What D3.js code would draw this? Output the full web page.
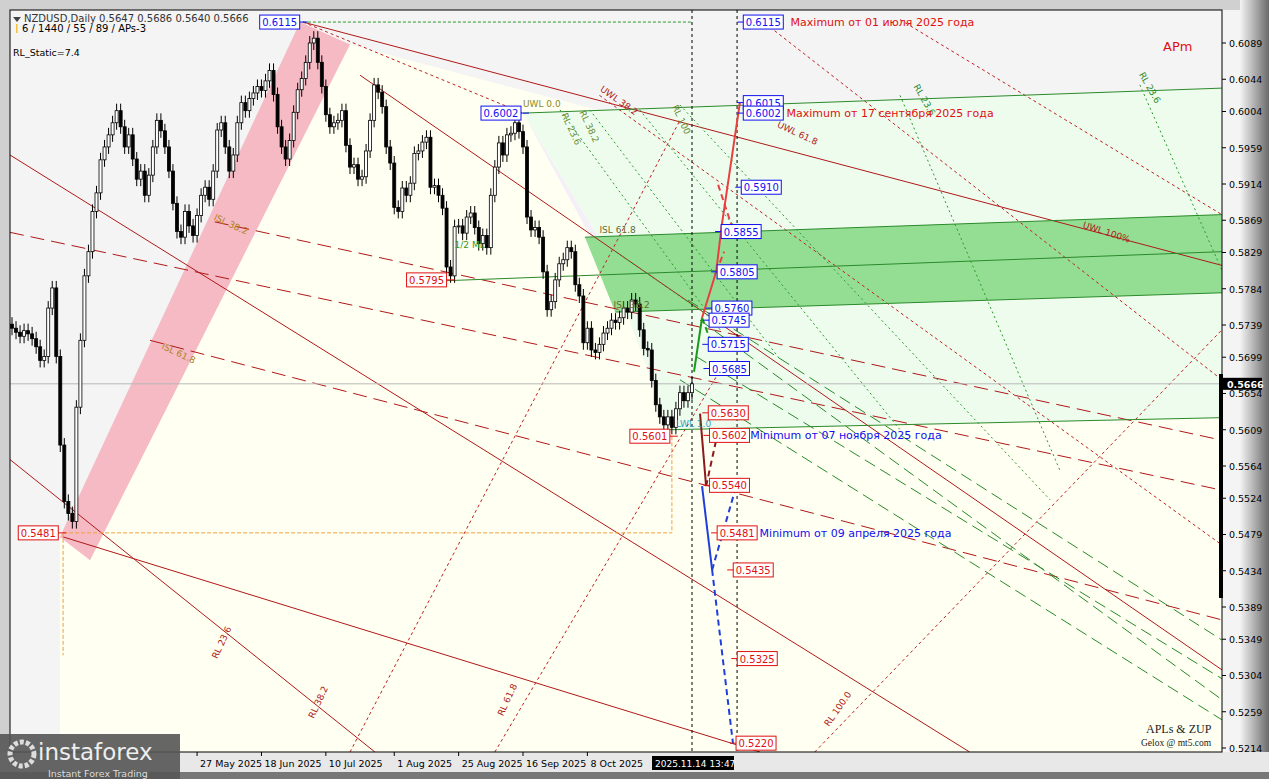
<!DOCTYPE html>
<html><head><meta charset="utf-8">
<script src="https://cdn.jsdelivr.net/npm/d3@7"></script>
<style>
body{margin:0;background:#fff;font-family:Tahoma,"DejaVu Sans",sans-serif}
</style></head>
<body><svg id="c" width="1269" height="779"></svg>
<script>
// NZDUSD daily closes, Mar..Nov 14 2025
var closes = [0.5735,0.5730,0.5725,0.5732,0.5728,0.5722,0.5712,0.5695,0.5700,0.5760,0.5785,
 0.5700,0.5590,0.5520,0.5505,0.5495,0.5637,0.5720,0.5800,0.5830,0.5880,0.5903,0.5944,0.5960,
 0.5975,0.5990,0.6005,0.5985,0.5960,0.5975,0.5945,0.5920,0.5930,0.5900,0.5925,0.5960,0.5993,
 0.5980,0.5960,0.5930,0.5890,0.5855,0.5848,0.5880,0.5862,0.5850,0.5875,0.5900,0.5910,0.5895,
 0.5930,0.5981,0.5990,0.5960,0.5930,0.5950,0.5990,0.6015,0.6005,0.6020,0.6027,0.6035,0.6030,
 0.6042,0.6055,0.6025,0.5985,0.5960,0.5945,0.5968,0.6003,0.6031,0.6045,0.6065,0.6089,0.6095,
 0.6065,0.6035,0.6000,0.5985,0.5990,0.5993,0.6005,0.5962,0.5935,0.5938,0.5920,0.5923,0.5955,
 0.5993,0.6037,0.6028,0.6010,0.5960,0.5940,0.5885,0.5880,0.5909,0.5900,0.5915,0.5952,0.5955,
 0.5966,0.5972,0.5910,0.5912,0.5900,0.5884,0.5811,0.5800,0.5861,0.5862,0.5853,0.5873,0.5878,
 0.5860,0.5840,0.5850,0.5835,0.5900,0.5935,0.5965,0.5950,0.5975,0.5977,0.5990,0.5979,0.5960,
 0.5873,0.5857,0.5860,0.5848,0.5805,0.5758,0.5768,0.5795,0.5815,0.5820,0.5835,0.5830,0.5789,
 0.5775,0.5717,0.5735,0.5708,0.5705,0.5715,0.5729,0.5735,0.5745,0.5742,0.5748,0.5760,0.5755,
 0.5770,0.5765,0.5733,0.5710,0.5708,0.5670,0.5640,0.5625,0.5615,0.5625,0.5612,0.5635,0.5655,
 0.5645,0.5655,0.5666];
var firstOpen = 0.5740;

var priceTicks = [0.6089,0.6044,0.6004,0.5959,0.5914,0.5869,0.5829,0.5784,0.5739,0.5699,0.5654,
 0.5609,0.5564,0.5524,0.5479,0.5434,0.5389,0.5349,0.5304,0.5259,0.5214];
var timeLabels = ["27 May 2025","18 Jun 2025","10 Jul 2025","1 Aug 2025","25 Aug 2025","16 Sep 2025","8 Oct 2025"];
var timeBars = [46,62,78,95,111,127,143];

// annotation geometry in [bar, price]
var redSolid = [[72.3,0.6115,300.7,0.5813],[86.5,0.6049,300.7,0.5311],[-0.5,0.5950,238,0.5209],
 [-0.5,0.5572,90.2,0.5209],[12.7,0.5476,185.9,0.5209]];
var redLong = [[-0.5,0.5854,300.7,0.5534],[34.3,0.5720,300.7,0.5373],[50.4,0.5867,300.7,0.5596]];
var redDot = [[84,0.5209,166,0.5993],[120,0.5209,176,0.5683],[199.5,0.5209,300.7,0.5733],
 [186,0.6118,300.7,0.5671],[220.7,0.6118,300.7,0.5876],[146,0.6024,300.7,0.5466],[72.3,0.6115,127,0.6002]];
var greenSolid = [[127,0.6002,300.7,0.6033],[108.1,0.5794,300.7,0.5830],[142.4,0.5848,300.7,0.5876],
 [149.9,0.5755,300.7,0.5779],[163.5,0.5609,300.7,0.5624]];
var greenDot = [[136.2,0.6006,176,0.5733],[143.6,0.6006,190.9,0.5696],[156,0.6006,220.7,0.5609],
 [166,0.6012,258,0.5522],[220.7,0.6024,260.4,0.5559],[280.3,0.6037,300.7,0.5807],[150,0.5830,176,0.5740]];
var greenLong = [[171,0.5745,300.7,0.5274],[166,0.5671,300.7,0.5249],[168,0.5770,300.7,0.5348],[170,0.5700,300.7,0.5300]];

var creamPoly = [[84,0.6087],[300.7,0.5801],[300.7,0.5209],[11.9,0.5209],[11.9,0.5478]];
var pinkPoly = [[11.9,0.5476],[71.6,0.6115],[84,0.6087],[19.4,0.5447]];
var fanPoly = [[127,0.6002],[300.7,0.6033],[300.7,0.5624],[163.5,0.5609],[146.1,0.5845]];
var lavPoly = [[127,0.6002],[146.1,0.5845],[163.5,0.5609],[160,0.5700]];
var bandPoly = [[142.4,0.5848],[300.7,0.5876],[300.7,0.5779],[149.9,0.5755]];

// forecast zigzags: [points, colour, dashed]
var paths = [
 [[[169.5,0.5681],[171.5,0.5748]],"#1a9a1a",false],
 [[[171.5,0.5748],[174,0.5714]],"#1a9a1a",true],
 [[[171.5,0.5748],[175,0.5805],[176.4,0.5863],[180.9,0.6015]],"#e84040",false],
 [[[175.5,0.5913],[179.2,0.5857]],"#e84040",true],
 [[[175,0.5805],[177,0.5830]],"#e84040",true],
 [[[171,0.5629],[172.5,0.5539]],"#8b1a1a",false],
 [[[172.5,0.5539],[175,0.5596]],"#8b1a1a",true],
 [[[171.5,0.5539],[174,0.5435]],"#1f3fdc",false],
 [[[174,0.5435],[179.7,0.5534]],"#1f3fdc",true],
 [[[174,0.5435],[179.2,0.5219]],"#1f3fdc",true]
];

var blueRight = [0.6115,0.6015,0.6002,0.5910,0.5855,0.5805,0.5760,0.5745,0.5715,0.5685];
var blueBars  = [181,181,181,180.5,175.5,174.5,173.2,172.5,172.3,172.6];
var redRight  = [0.5630,0.5602,0.5540,0.5481,0.5435,0.5325,0.5220];
var redBars   = [172.3,172.6,172.6,174.5,178.5,179.5,179.2];

var svg = d3.select("#c");
var L = 10, R = 1222, T = 10, B = 752;
var n = closes.length;
var x = d3.scaleLinear().domain([0, n - 1]).range([12, 692]);
var y = d3.scaleLinear().domain([0.6089, 0.5214]).range([43, 748]);

svg.append("rect").attr("width",1269).attr("height",779).attr("fill","#d0d0d0");
var grad = svg.append("defs").append("linearGradient").attr("id","g1");
grad.append("stop").attr("offset","0").attr("stop-color","#f4f4f4");
grad.append("stop").attr("offset","1").attr("stop-color","#6a6a6a");
svg.append("rect").attr("x",1240).attr("y",0).attr("width",29).attr("height",779).attr("fill","url(#g1)");
svg.append("rect").attr("x",0).attr("y",752).attr("width",1269).attr("height",27).attr("fill","#e8e8e8");
svg.append("rect").attr("x",0).attr("y",772).attr("width",1269).attr("height",7).attr("fill","#777");
svg.append("rect").attr("x",L).attr("y",T).attr("width",1240-L).attr("height",B-T).attr("fill","#f4f4f4");

svg.append("clipPath").attr("id","cp").append("rect").attr("x",L).attr("y",T).attr("width",R-L).attr("height",B-T);
var g = svg.append("g").attr("clip-path","url(#cp)");
var line = d3.line().x(function(d){return x(d[0]);}).y(function(d){return y(d[1]);});

function poly(pts, fill){ g.append("path").attr("d", line(pts) + "Z").attr("fill", fill); }
poly(creamPoly,"#fffff2");
poly(lavPoly,"#f5f0f8");
poly(fanPoly,"#eefcee");
poly(pinkPoly,"#f6bac4");
poly(bandPoly,"#94de94");

function segs(list, col, dash, w){
  list.forEach(function(s){
    g.append("line").attr("x1",x(s[0])).attr("y1",y(s[1])).attr("x2",x(s[2])).attr("y2",y(s[3]))
     .attr("stroke",col).attr("stroke-width",w||1).attr("stroke-dasharray",dash);
  });
}
segs(redSolid,"#b01818",null);
segs(redLong,"#b01818","14,7");
segs(redDot,"#c02020","3,3");
segs(greenSolid,"#2a8a2a",null);
segs(greenDot,"#2a9a2a","2,3");
segs(greenLong,"#2a8a2a","12,6");

// reference lines
var last = closes[n-1];
g.append("line").attr("x1",L).attr("x2",R).attr("y1",y(last)).attr("y2",y(last)).attr("stroke","#b8b8b8");
g.append("line").attr("x1",x(72.3)).attr("x2",x(n-1)).attr("y1",y(0.6115)).attr("y2",y(0.6115)).attr("stroke","#2a9a2a").attr("stroke-dasharray","3,2");
g.append("line").attr("x1",x(12.7)).attr("x2",x(164)).attr("y1",y(0.5481)).attr("y2",y(0.5481)).attr("stroke","#f0a040").attr("stroke-dasharray","4,2");
g.append("line").attr("x1",x(12.7)).attr("x2",x(12.7)).attr("y1",y(0.5481)).attr("y2",y(0.5329)).attr("stroke","#f0a040").attr("stroke-dasharray","4,2");
g.append("line").attr("x1",x(164)).attr("x2",x(164)).attr("y1",y(0.5601)).attr("y2",y(0.5481)).attr("stroke","#f0a040").attr("stroke-dasharray","4,2");
[n-1, 180.2].forEach(function(b){
  g.append("line").attr("x1",x(b)).attr("x2",x(b)).attr("y1",T).attr("y2",B).attr("stroke","#000").attr("stroke-dasharray","3,3");
});

// candles
var prev = firstOpen;
closes.forEach(function(c, i){
  var o = prev, cx = x(i), up = c >= o;
  var top = y(Math.max(o,c)), bot = y(Math.min(o,c));
  g.append("line").attr("x1",cx).attr("x2",cx).attr("y1",top-7).attr("y2",bot+7).attr("stroke","#000");
  g.append("rect").attr("x",cx-1.5).attr("y",top).attr("width",3).attr("height",Math.max(1,bot-top))
   .attr("fill",up?"#fff":"#000").attr("stroke","#000").attr("stroke-width",0.8);
  prev = c;
});

paths.forEach(function(p){
  g.append("path").attr("d",line(p[0])).attr("fill","none").attr("stroke",p[1]).attr("stroke-width",2)
   .attr("stroke-dasharray",p[2]?"6,4":null);
});

// fan labels
var fanLabels = [["UWL 0.0",127,0.6010,0,"#8a8a2a"],["1/2 ML",110,0.5835,0,"#2a9a2a"],["ISL 61.8",146,0.5853,0,"#6a6a2a"],
 ["ISL 38.2",149.5,0.5760,0,"#6a6a2a"],["RL 23.6",136.5,0.6000,65,"#6a8a2a"],["RL 38.2",141,0.6003,65,"#6a8a2a"],
 ["RL 100",164,0.6010,65,"#6a8a2a"],["UWL 38.2",146,0.6030,35,"#b01818"],["UWL 61.8",190,0.5985,25,"#b01818"],
 ["UWL 100%",266,0.5860,18,"#b01818"],["RL 23.6",51,0.5324,-65,"#b01818"],["RL 38.2",75,0.5250,-65,"#b01818"],
 ["RL 61.8",122,0.5253,-65,"#b01818"],["RL 100.0",203,0.5240,-55,"#b01818"],["ISL 38.2",50,0.5870,25,"#b08020"],
 ["ISL 61.8",37,0.5710,25,"#b08020"],["RL 23.6",224,0.6035,60,"#2a8a2a"],["RL 23.6",280,0.6050,60,"#2a8a2a"],
 ["LWL 1.0",165,0.5612,0,"#3aa0c0"]];
fanLabels.forEach(function(f){
  g.append("text").attr("transform","translate("+x(f[1])+","+y(f[2])+") rotate("+f[3]+")")
   .attr("font-size",9).attr("fill",f[4]).text(f[0]);
});

function box(p, b, col, anchorRight){
  var bg = svg.append("g");
  var r = bg.append("rect");
  var t = bg.append("text").attr("font-size",10).attr("fill",col).attr("y",y(p)+4).text(p.toFixed(4));
  var w = t.node().getComputedTextLength() + 5;
  var bx = anchorRight ? x(b) - w : x(b) + 3;
  t.attr("x", bx + 2.5);
  r.attr("x",bx).attr("y",y(p)-7).attr("width",w).attr("height",14).attr("fill","#fff").attr("stroke",col);
  bg.append("line").attr("x1", anchorRight ? bx + w : bx).attr("x2", anchorRight ? bx + w + 8 : bx - 6)
   .attr("y1",y(p)).attr("y2",y(p)).attr("stroke",col);
}
box(0.6115,71.5,"#1010f0",true);
box(0.6002,126.5,"#1010f0",true);
box(0.5795,108,"#e01010",true);
box(0.5481,11.5,"#e01010",true);
box(0.5601,163.5,"#e01010",true);
blueRight.forEach(function(p,i){ box(p, blueBars[i], "#1010f0", false); });
redRight.forEach(function(p,i){ box(p, redBars[i], "#e01010", false); });

var notes = [["Maximum от 01 июля 2025 года",0.6115,193.5,"#e01010"],["Maximum от 17 сентября 2025 года",0.6002,192.5,"#e01010"],
 ["Minimum от 07 ноября 2025 года",0.5602,183.5,"#1010f0"],["Minimum от 09 апреля 2025 года",0.5481,185.8,"#1010f0"]];
notes.forEach(function(t){
  svg.append("text").attr("x",x(t[2])).attr("y",y(t[1])+4).attr("font-size",11).attr("fill",t[3]).text(t[0]);
});

// axis
svg.append("rect").attr("x",L).attr("y",T).attr("width",R-L).attr("height",B-T).attr("fill","none").attr("stroke","#000");
priceTicks.forEach(function(p){
  svg.append("line").attr("x1",R).attr("x2",R+4).attr("y1",y(p)).attr("y2",y(p)).attr("stroke","#000");
  svg.append("text").attr("x",R+7).attr("y",y(p)+4).attr("font-size",9.5).attr("fill","#000").text(p.toFixed(4));
});
svg.append("rect").attr("x",R-3).attr("y",374).attr("width",4).attr("height",224).attr("fill","#000");
svg.append("rect").attr("x",R).attr("y",y(last)-6).attr("width",40).attr("height",12).attr("fill","#000");
svg.append("text").attr("x",R+5).attr("y",y(last)+4).attr("font-size",9.5).attr("font-weight","bold").attr("fill","#fff").text(last.toFixed(4));

timeLabels.forEach(function(t,i){
  var b = timeBars[i];
  svg.append("line").attr("x1",x(b)).attr("x2",x(b)).attr("y1",B).attr("y2",B+4).attr("stroke","#000");
  svg.append("text").attr("x",x(b)+3).attr("y",767).attr("font-size",9.5).attr("fill","#000").text(t);
});
svg.append("rect").attr("x",652).attr("y",756).attr("width",82).attr("height",14).attr("fill","#000");
svg.append("text").attr("x",655).attr("y",767).attr("font-size",9).attr("fill","#fff").text("2025.11.14 13:47");

// header texts
svg.append("path").attr("d","M13,17 L21,17 L17,22 Z").attr("fill","#444");
svg.append("text").attr("x",24).attr("y",22).attr("font-size",10).attr("fill","#333").text("NZDUSD,Daily  0.5647 0.5686 0.5640 0.5666");
svg.append("rect").attr("x",16).attr("y",24).attr("width",1.5).attr("height",9).attr("fill","#f0c040");
svg.append("text").attr("x",22).attr("y",32).attr("font-size",10).attr("fill","#000").text("6 / 1440 / 55 / 89 / APs-3");
svg.append("text").attr("x",13).attr("y",56).attr("font-size",9.5).attr("fill","#000").text("RL_Static=7.4");
svg.append("text").attr("x",1163).attr("y",51).attr("font-size",13).attr("fill","#e01010").text("APm");
svg.append("text").attr("x",1146).attr("y",733).attr("font-size",12).attr("font-family","Liberation Serif").attr("fill","#222").text("APLs & ZUP");
svg.append("text").attr("x",1141).attr("y",746).attr("font-size",9.5).attr("font-family","Liberation Serif").attr("fill","#222").text("Gelox @ mt5.com");

// logo
svg.append("rect").attr("x",0).attr("y",734).attr("width",180).attr("height",45).attr("fill","#555").attr("opacity",0.9);
svg.append("circle").attr("cx",22).attr("cy",754).attr("r",12).attr("fill","none").attr("stroke","#ddd").attr("stroke-width",5).attr("stroke-dasharray","4,2");
svg.append("text").attr("x",38).attr("y",760).attr("font-size",23).attr("fill","#eee").text("instaforex");
svg.append("text").attr("x",48).attr("y",777).attr("font-size",9.5).attr("fill","#ddd").text("Instant Forex Trading");
</script></body></html>
